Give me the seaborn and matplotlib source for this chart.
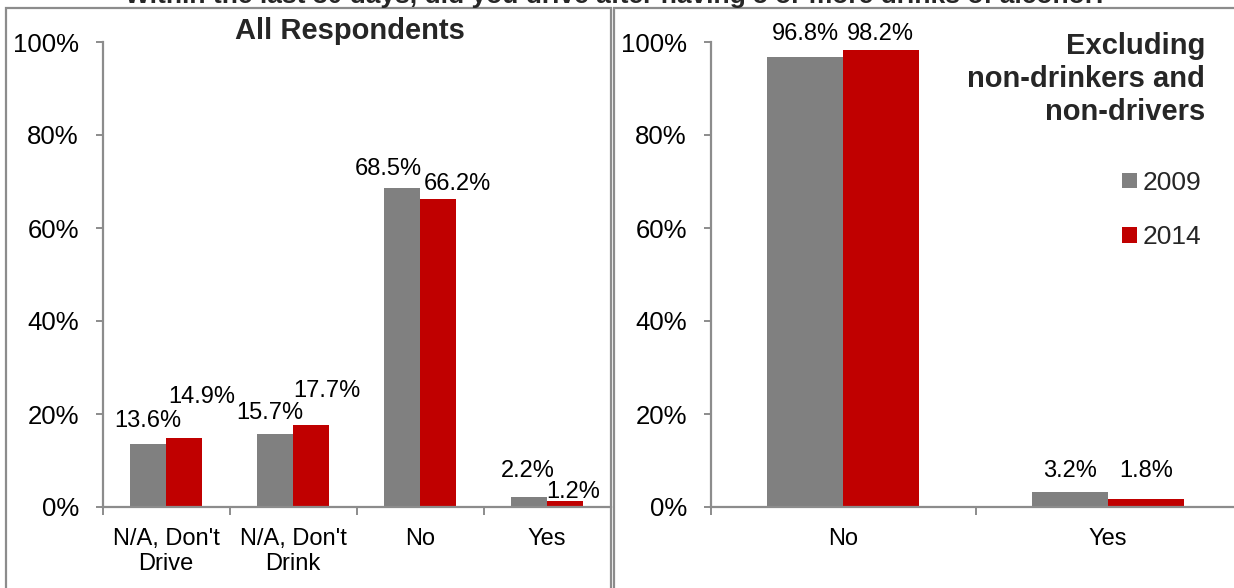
import matplotlib
matplotlib.use("Agg")
import matplotlib.pyplot as plt
from matplotlib.patches import Rectangle, Patch
import seaborn as sns
import pandas as pd

# ---- data ----
title = "Within the last 30 days, did you drive after having 5 or more drinks of alcohol?"
years = ["2009", "2014"]
left_categories = ["N/A, Don't\nDrive", "N/A, Don't\nDrink", "No", "Yes"]
left_2009 = [13.6, 15.7, 68.5, 2.2]
left_2014 = [14.9, 17.7, 66.2, 1.2]
right_categories = ["No", "Yes"]
right_2009 = [96.8, 3.2]
right_2014 = [98.2, 1.8]
left_title = "All Respondents"
right_title = "Excluding\nnon-drinkers and\nnon-drivers"
yticks = [0, 20, 40, 60, 80, 100]

colors = {"2009": "#808080", "2014": "#C00000"}
FONT = "Liberation Sans"
GRAY = "#8c8c8c"

sns.set_theme(style="white")
plt.rcParams["font.family"] = [FONT, "DejaVu Sans"]

W, H = 1234, 588
fig = plt.figure(figsize=(W / 100, H / 100), dpi=100)

def px_axes(x0, x1, y_top, y_bot):
    return fig.add_axes([x0 / W, 1 - y_bot / H, (x1 - x0) / W, (y_bot - y_top) / H])

def make_df(cats, v09, v14):
    rows = []
    for c, a, b in zip(cats, v09, v14):
        rows.append({"cat": c, "year": "2009", "val": a})
        rows.append({"cat": c, "year": "2014", "val": b})
    return pd.DataFrame(rows)

def style_axes(ax, ncat):
    ax.set_ylim(0, 100)
    ax.set_xlim(-0.5, ncat - 0.5)
    ax.set_yticks(yticks)
    ax.set_yticklabels([f"{t}%" for t in yticks])
    for s in ["top", "right"]:
        ax.spines[s].set_visible(False)
    for s in ["left", "bottom"]:
        ax.spines[s].set_color(GRAY)
        ax.spines[s].set_linewidth(1.6)
    ax.tick_params(axis="y", which="major", direction="out", length=5, width=1.4,
                   color=GRAY, labelsize=18.5, pad=12, left=True, labelcolor="black")
    ax.set_xticks(range(ncat))
    ax.set_xticks([i - 0.5 for i in range(ncat + 1)], minor=True)
    ax.tick_params(axis="x", which="major", length=0, labelsize=17, pad=15, labelcolor="black")
    ax.tick_params(axis="x", which="minor", direction="out", length=6, width=1.4,
                   color=GRAY, bottom=True)
    ax.set_xlabel("")
    ax.set_ylabel("")
    ax.grid(False)
    ax.set_facecolor("none")

def label_bars(ax, offsets):
    for ci, cont in enumerate(ax.containers):
        for bi, bar in enumerate(cont):
            h = bar.get_height()
            xc = bar.get_x() + bar.get_width() / 2
            dx, dy = offsets[ci][bi]
            ax.annotate(f"{h:.1f}%", xy=(xc, h), xytext=(dx, dy),
                        textcoords="offset pixels", ha="center", va="center",
                        fontsize=17, color="black", annotation_clip=False)

# ---- left panel ----
axL = px_axes(102.5, 610.5, 42, 507)
dfL = make_df(left_categories, left_2009, left_2014)
sns.barplot(data=dfL, x="cat", y="val", hue="year", palette=colors, width=0.57,
            saturation=1, ax=axL, legend=False, gap=0, linewidth=0, edgecolor="none")
style_axes(axL, len(left_categories))
label_bars(axL, [[(0, 23), (-5, 21), (-14, 19), (-1, 26)],
                 [(18, 41), (16, 34), (19, 15), (8, 9)]])
fig.text(350 / W, 1 - 31 / H, left_title, ha="center",
         va="center", fontsize=21, fontweight="bold")

# ---- right panel ----
axR = px_axes(710.5, 1240.5, 42, 507)
dfR = make_df(right_categories, right_2009, right_2014)
sns.barplot(data=dfR, x="cat", y="val", hue="year", palette=colors, width=0.57,
            saturation=1, ax=axR, legend=False, gap=0, linewidth=0, edgecolor="none")
style_axes(axR, len(right_categories))
label_bars(axR, [[(0, 23), (0, 21)], [(0, 16), (0, 28)]])
fig.text(1205 / W, 1 - 79 / H, right_title, ha="right", va="center",
         fontsize=21, fontweight="bold", linespacing=1.22)

handles = [Patch(facecolor=colors[y], edgecolor="none", label=y) for y in years]
fig.legend(handles=handles, loc="center right", bbox_to_anchor=(1201 / W, 1 - 210 / H),
           frameon=False, fontsize=19, handlelength=0.55, handleheight=0.55,
           handletextpad=0.2, labelspacing=1.15, borderpad=0, borderaxespad=0)

# ---- panel frames ----
fig.add_artist(Rectangle((6 / W, -0.05), (611 - 6) / W, 1.05 - 8 / H,
                         transform=fig.transFigure, fill=False, edgecolor=GRAY, linewidth=1.6))
fig.add_artist(Rectangle((614 / W, -0.05), 0.6, 1.05 - 8 / H,
                         transform=fig.transFigure, fill=False, edgecolor=GRAY, linewidth=1.6))

# ---- clipped main title ----
fig.text(617 / W, 1 - 3 / H, title, ha="center", va="baseline", fontsize=19,
         fontweight="bold")

fig.savefig("out.png", dpi=100)
